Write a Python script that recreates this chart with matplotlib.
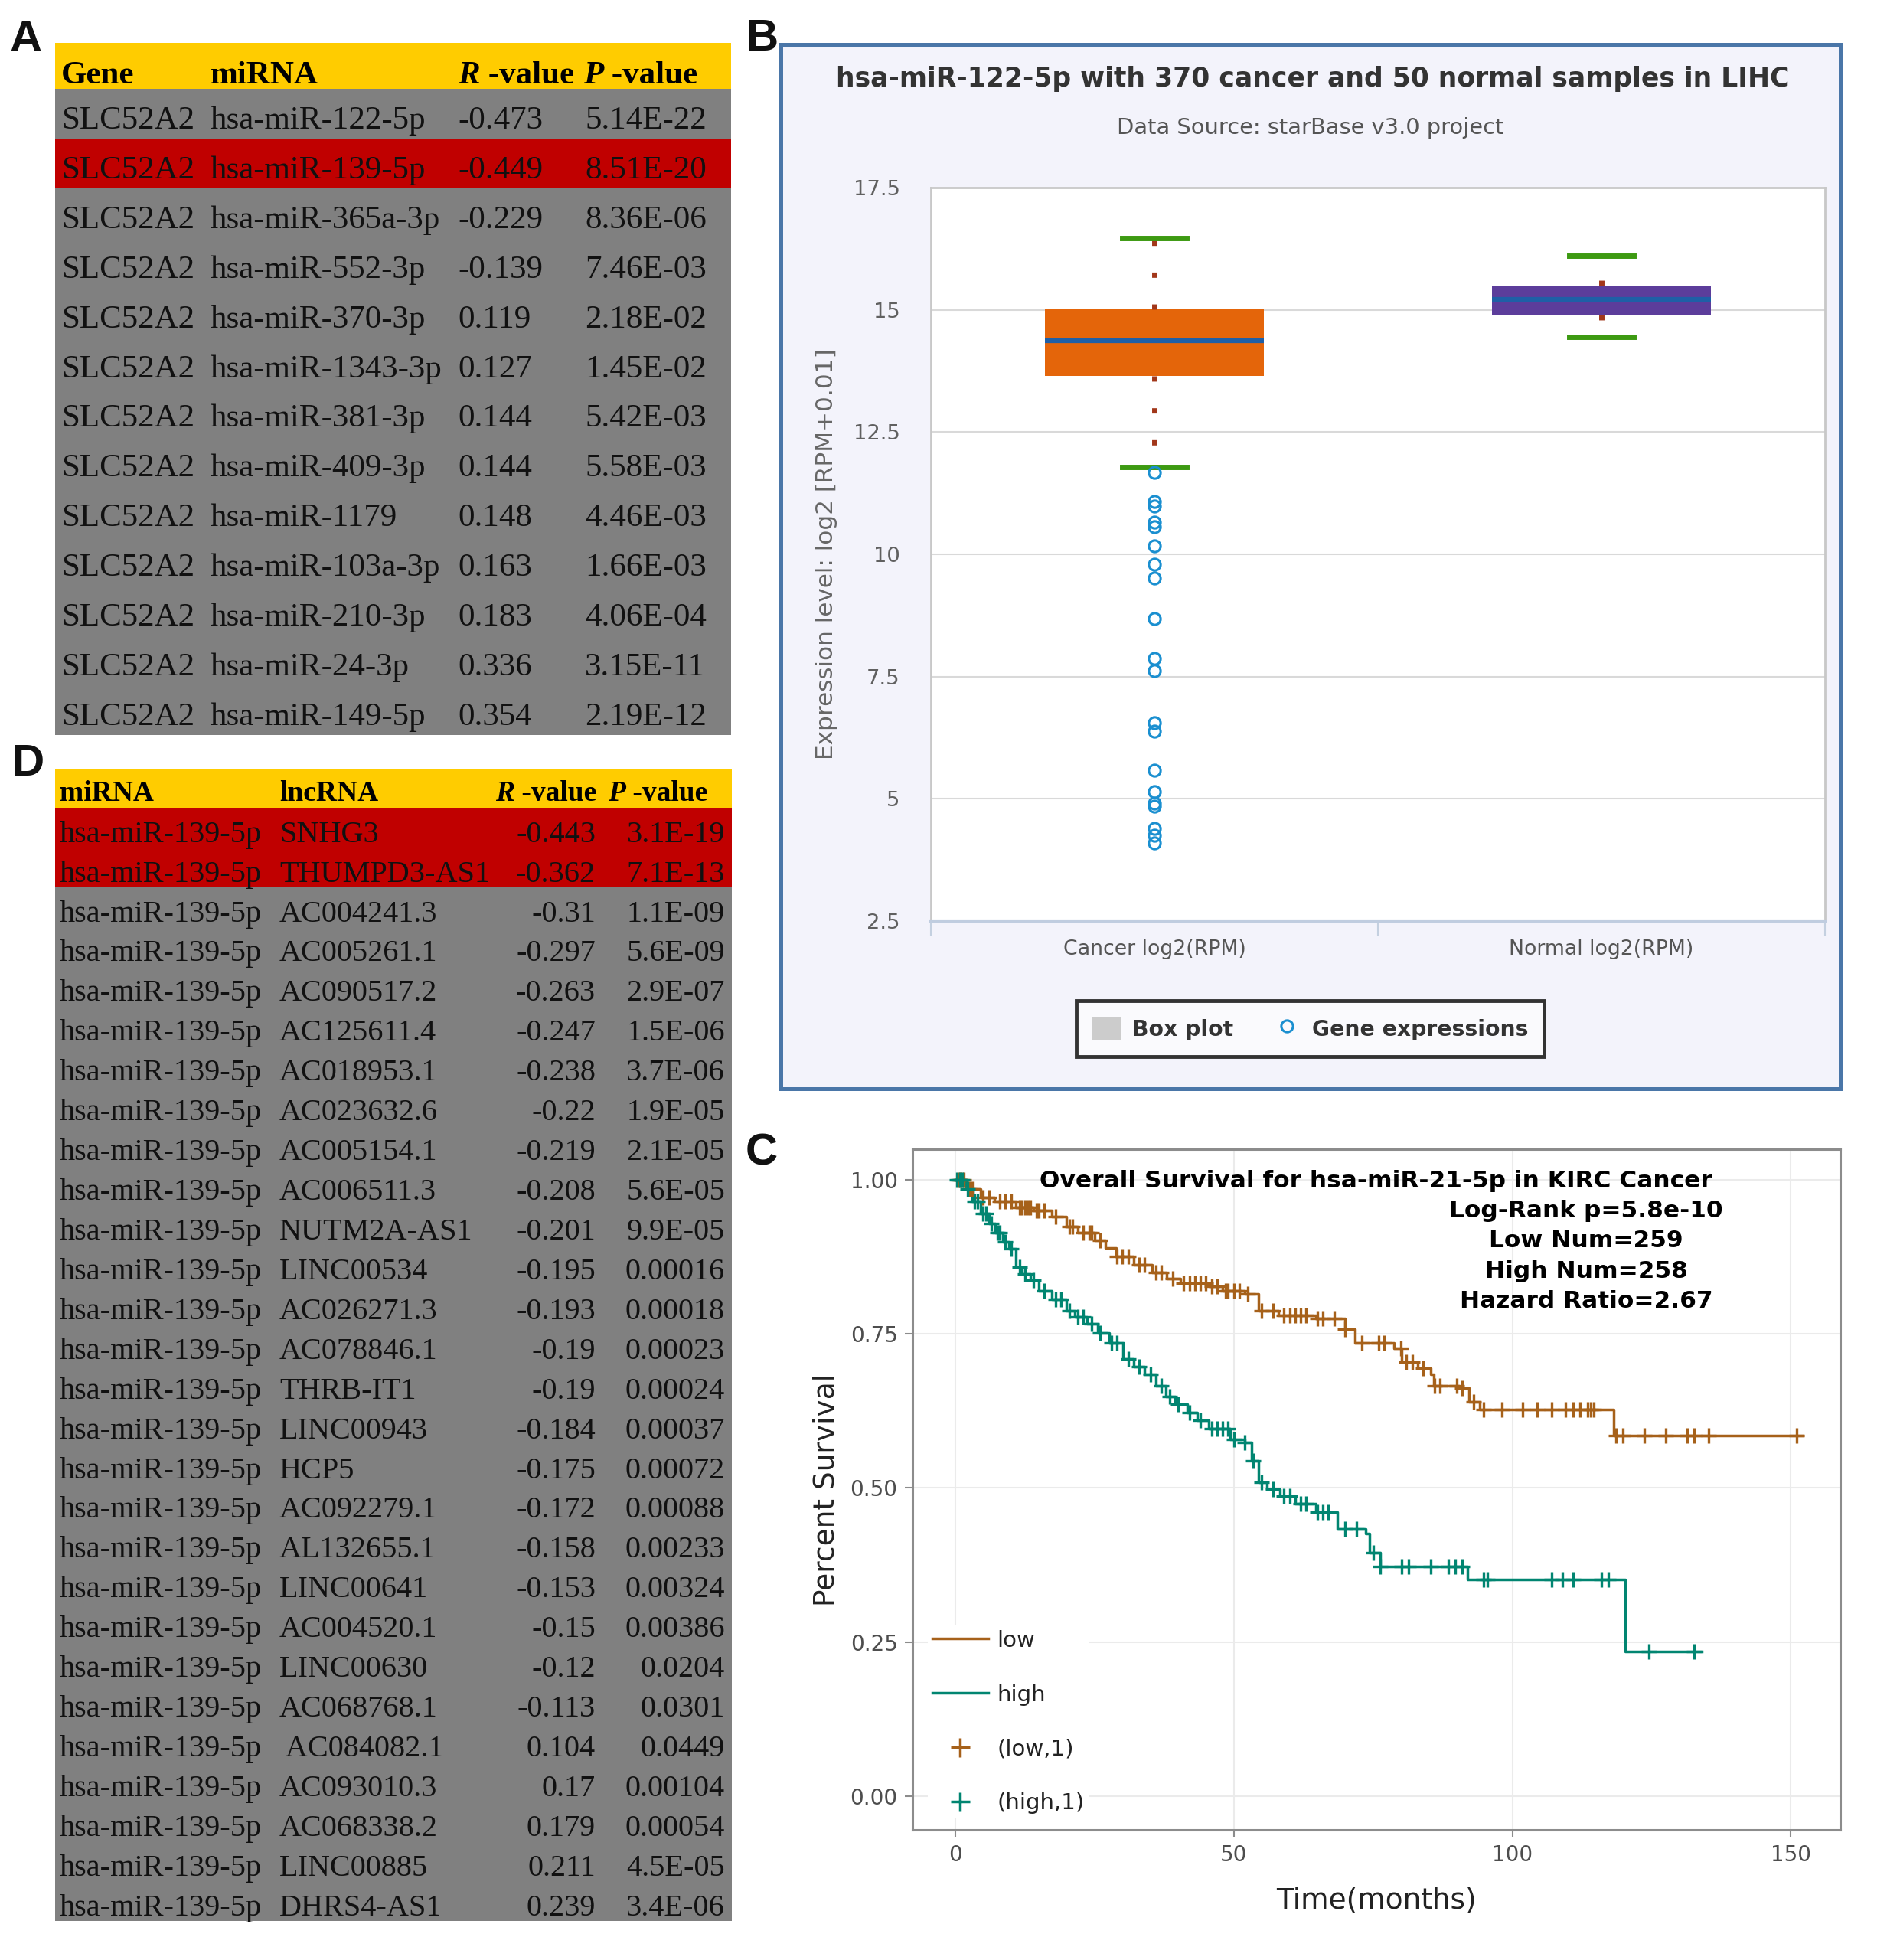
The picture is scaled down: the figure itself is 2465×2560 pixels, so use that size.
import numpy as np
import matplotlib
matplotlib.use('Agg')
import matplotlib.pyplot as plt
from matplotlib.patches import Rectangle, Patch
from matplotlib.lines import Line2D
from matplotlib.ticker import FixedLocator

# ---------------- data ----------------
# Table A
genes_A = ['SLC52A2'] * 13
mirna_A = ['hsa-miR-122-5p', 'hsa-miR-139-5p', 'hsa-miR-365a-3p', 'hsa-miR-552-3p',
           'hsa-miR-370-3p', 'hsa-miR-1343-3p', 'hsa-miR-381-3p', 'hsa-miR-409-3p',
           'hsa-miR-1179', 'hsa-miR-103a-3p', 'hsa-miR-210-3p', 'hsa-miR-24-3p',
           'hsa-miR-149-5p']
r_A = ['-0.473', '-0.449', '-0.229', '-0.139', '0.119', '0.127', '0.144', '0.144',
       '0.148', '0.163', '0.183', '0.336', '0.354']
p_A = ['5.14E-22', '8.51E-20', '8.36E-06', '7.46E-03', '2.18E-02', '1.45E-02',
       '5.42E-03', '5.58E-03', '4.46E-03', '1.66E-03', '4.06E-04', '3.15E-11', '2.19E-12']
highlight_A = [1]

# Table D
mirna_D = ['hsa-miR-139-5p'] * 28
lnc_D = ['SNHG3', 'THUMPD3-AS1', 'AC004241.3', 'AC005261.1', 'AC090517.2', 'AC125611.4',
         'AC018953.1', 'AC023632.6', 'AC005154.1', 'AC006511.3', 'NUTM2A-AS1', 'LINC00534',
         'AC026271.3', 'AC078846.1', 'THRB-IT1', 'LINC00943', 'HCP5', 'AC092279.1',
         'AL132655.1', 'LINC00641', 'AC004520.1', 'LINC00630', 'AC068768.1', ' AC084082.1',
         'AC093010.3', 'AC068338.2', 'LINC00885', 'DHRS4-AS1']
r_D = ['-0.443', '-0.362', '-0.31', '-0.297', '-0.263', '-0.247', '-0.238', '-0.22',
       '-0.219', '-0.208', '-0.201', '-0.195', '-0.193', '-0.19', '-0.19', '-0.184',
       '-0.175', '-0.172', '-0.158', '-0.153', '-0.15', '-0.12', '-0.113', '0.104',
       '0.17', '0.179', '0.211', '0.239']
p_D = ['3.1E-19', '7.1E-13', '1.1E-09', '5.6E-09', '2.9E-07', '1.5E-06', '3.7E-06',
       '1.9E-05', '2.1E-05', '5.6E-05', '9.9E-05', '0.00016', '0.00018', '0.00023',
       '0.00024', '0.00037', '0.00072', '0.00088', '0.00233', '0.00324', '0.00386',
       '0.0204', '0.0301', '0.0449', '0.00104', '0.00054', '4.5E-05', '3.4E-06']
highlight_D = [0, 1]

# Panel B (box plot)
b_categories = ['Cancer log2(RPM)', 'Normal log2(RPM)']
b_q1 = [13.65, 14.90]
b_med = [14.37, 15.22]
b_q3 = [15.01, 15.49]
b_whislo = [11.78, 14.45]
b_whishi = [16.46, 16.11]
b_fliers_cancer = [11.67, 11.08, 10.99, 10.66, 10.56, 10.17, 9.80, 9.52, 8.69, 7.87,
                   7.62, 6.56, 6.38, 5.58, 5.15, 4.91, 4.85, 4.39, 4.25, 4.10]
b_fliers_normal = []
b_yticks = [2.5, 5, 7.5, 10, 12.5, 15, 17.5]
b_box_colors = ['#e4650a', '#5c3d9b']

# Panel C (Kaplan-Meier)
low_t = [0, 2, 4.5, 7, 10.9, 14, 17.3, 19.9, 22, 25, 27, 28.8, 32, 35.3, 38, 40.4, 45.5,
         48, 51.9, 54.5, 58, 64.7, 69.9, 71.8, 78.8, 80.1, 83, 85.3, 85.9, 90.4, 92.3,
         94.2, 118.2, 152.2]
low_s = [1.0, 0.985, 0.972, 0.965, 0.955, 0.95, 0.94, 0.924, 0.915, 0.902, 0.89, 0.876,
         0.862, 0.85, 0.84, 0.832, 0.828, 0.82, 0.815, 0.788, 0.78, 0.775, 0.758, 0.736,
         0.727, 0.705, 0.695, 0.684, 0.666, 0.662, 0.64, 0.627, 0.585, 0.585]
low_cens = [0.5, 1, 1.5, 2.5, 3, 5, 6, 8, 9, 10, 11.5, 12, 12.5, 13, 13.5, 14.5, 15, 16,
            18, 20.5, 21, 23, 24, 24.5, 26, 29, 30, 31, 33, 34, 36, 37, 39, 41, 42, 43,
            44, 45, 46, 47, 48.5, 49, 50, 51, 52.5, 55, 57, 59, 60, 61, 62, 63, 65, 66,
            68, 70, 73, 76, 77, 80, 81, 82, 84, 86, 87, 90, 91, 93, 94.9, 98.1, 101.9,
            104.5, 107.1, 109.6, 110.9, 112.2, 113.5, 114.1, 114.7, 118.6, 119.9, 123.7,
            127.6, 131.4, 132.7, 135.3, 151.0]
high_t = [0, 1.9, 3, 4.5, 6, 7.1, 8.5, 9.6, 10.9, 12, 13.5, 15, 17.3, 19.9, 21.5, 23.7,
          25.5, 27.6, 30.1, 32, 34, 36, 37.8, 39.5, 41.7, 43.5, 45.5, 49.4, 51.9, 53.2,
          54.5, 56, 58.3, 61, 64.7, 68.6, 73.7, 74.4, 76.3, 92, 120.3, 134]
high_s = [1.0, 0.985, 0.965, 0.946, 0.93, 0.915, 0.9, 0.889, 0.858, 0.848, 0.837, 0.82,
          0.806, 0.788, 0.778, 0.767, 0.752, 0.736, 0.71, 0.697, 0.684, 0.666, 0.649,
          0.636, 0.622, 0.61, 0.596, 0.579, 0.574, 0.544, 0.509, 0.498, 0.487, 0.475,
          0.461, 0.434, 0.426, 0.395, 0.373, 0.351, 0.235, 0.235]
high_cens = [0.3, 0.8, 1.2, 2.2, 3.5, 4, 5, 5.5, 6.5, 7.5, 8, 9, 10, 11.5, 12.5, 14, 16,
             18, 19, 20.5, 22, 23, 24.5, 26, 28, 29, 31, 33, 35, 37, 38.5, 40, 42, 44, 46,
             47, 48, 49, 50, 52, 53.5, 55, 57, 59, 60, 62, 63, 65, 66, 67, 70, 72, 75,
             76.3, 80.1, 81.4, 85.3, 88.5, 89.7, 91.0, 94.9, 95.5, 107.1, 109.0, 110.9,
             116.0, 117.3, 124.6, 132.7]
c_xticks = [0, 50, 100, 150]
c_yticks = [0.0, 0.25, 0.5, 0.75, 1.0]
c_annot = ['Overall Survival for hsa-miR-21-5p in KIRC Cancer', 'Log-Rank p=5.8e-10',
           'Low Num=259', 'High Num=258', 'Hazard Ratio=2.67']
low_col, high_col = '#A6611A', '#018571'

# ---------------- figure ----------------
W, H, DPI = 2465, 2560, 100
fig = plt.figure(figsize=(W / DPI, H / DPI), dpi=DPI)
fig.patch.set_facecolor('white')

bg = fig.add_axes([0, 0, 1, 1])
bg.set_xlim(0, W)
bg.set_ylim(H, 0)
bg.axis('off')

SERIF = ['Liberation Serif', 'DejaVu Serif']
SANS = ['DejaVu Sans']
GOLD, GRAY, RED = '#ffcc00', '#808080', '#c00000'


def draw_table(x0, x1, head_top, head_h, body_top, row_h, nrows, hl):
    bg.add_patch(Rectangle((x0, head_top), x1 - x0, head_h + 1, fc=GOLD, ec='none'))
    bg.add_patch(Rectangle((x0, body_top), x1 - x0, nrows * row_h, fc=GRAY, ec='none'))
    for i in hl:
        bg.add_patch(Rectangle((x0, body_top + i * row_h), x1 - x0, row_h, fc=RED, ec='none'))


def header_rv(x, y, letter, size):
    t = bg.text(x, y, letter, fontsize=size, family=SERIF, weight='bold', style='italic',
                ha='left', va='baseline', color='black')
    bg.annotate(' -value', xy=(1, 0), xycoords=t, fontsize=size, family=SERIF,
                weight='bold', ha='left', va='bottom', color='black')


# ---- Table A ----
A_x0, A_x1 = 72, 955
A_head_top, A_head_h = 56, 60
A_body_top = 116
A_row_h = (960 - 116) / 13
draw_table(A_x0, A_x1, A_head_top, A_head_h, A_body_top, A_row_h, len(mirna_A), highlight_A)
fsA, fsAh = 31, 31
yb = A_head_top + 0.88 * A_head_h
bg.text(80, yb, 'Gene', fontsize=fsAh, family=SERIF, weight='bold', va='baseline')
bg.text(275, yb, 'miRNA', fontsize=fsAh, family=SERIF, weight='bold', va='baseline')
header_rv(598, yb, 'R', fsAh)
header_rv(762, yb, 'P', fsAh)
for i in range(len(mirna_A)):
    y = A_body_top + i * A_row_h + 0.8 * A_row_h
    for txt, x in ((genes_A[i], 80), (mirna_A[i], 275), (r_A[i], 598), (p_A[i], 764)):
        bg.text(x, y, txt, fontsize=fsA, family=SERIF, va='baseline', ha='left', color='#111111')

# ---- Table D ----
D_x0, D_x1 = 72, 956
D_head_top, D_head_h = 1005, 50
D_body_top = 1055
D_row_h = (2509 - 1055) / 28
draw_table(D_x0, D_x1, D_head_top, D_head_h, D_body_top, D_row_h, len(lnc_D), highlight_D)
fsD, fsDh = 29, 27
yb = D_head_top + 0.82 * D_head_h
bg.text(78, yb, 'miRNA', fontsize=fsDh, family=SERIF, weight='bold', va='baseline')
bg.text(365, yb, 'lncRNA', fontsize=fsDh, family=SERIF, weight='bold', va='baseline')
header_rv(647, yb, 'R', fsDh)
header_rv(794, yb, 'P', fsDh)
for i in range(len(lnc_D)):
    y = D_body_top + i * D_row_h + 0.86 * D_row_h
    bg.text(78, y, mirna_D[i], fontsize=fsD, family=SERIF, va='baseline', ha='left', color='#111111')
    bg.text(365, y, lnc_D[i], fontsize=fsD, family=SERIF, va='baseline', ha='left', color='#111111')
    bg.text(778, y, r_D[i], fontsize=fsD, family=SERIF, va='baseline', ha='right', color='#111111')
    bg.text(947, y, p_D[i], fontsize=fsD, family=SERIF, va='baseline', ha='right', color='#111111')

# ---- panel letters ----
for lab, x, y in (('A', 13, 67), ('B', 974, 66), ('C', 974, 1521), ('D', 15, 1013)):
    bg.text(x, y, lab, fontsize=42, family=['Liberation Sans', 'DejaVu Sans'],
            weight='bold', va='baseline', ha='left', color='#111111')

# ---- Panel B frame ----
bg.add_patch(Rectangle((1019.5, 57.5), 2404 - 1019.5, 1421.5 - 57.5, fc='#f3f3fb',
                       ec='#4a76a8', lw=3.6))
bg.text(1715, 113, 'hsa-miR-122-5p with 370 cancer and 50 normal samples in LIHC',
        fontsize=24.9, family=SANS, weight='bold', ha='center', va='baseline', color='#333333')
bg.text(1712, 175, 'Data Source: starBase v3.0 project', fontsize=20.8, family=SANS,
        ha='center', va='baseline', color='#555555')

axb = fig.add_axes([1216 / W, 1 - 1203 / H, 1168 / W, 958 / H])
axb.set_facecolor('white')
stats = []
fl = [b_fliers_cancer, b_fliers_normal]
for i in range(2):
    stats.append(dict(med=b_med[i], q1=b_q1[i], q3=b_q3[i], whislo=b_whislo[i],
                      whishi=b_whishi[i], fliers=fl[i], label=b_categories[i]))
bp = axb.bxp(stats, positions=[0, 1], widths=0.49, capwidths=0.144, patch_artist=True,
             showfliers=True,
             boxprops=dict(linewidth=0),
             whiskerprops=dict(color='#a2371a', linewidth=5, linestyle=(0, (1, 5))),
             capprops=dict(color='#3d9a12', linewidth=5),
             medianprops=dict(color='#1f5fa6', linewidth=4.5),
             flierprops=dict(marker='o', mfc='none', mec='#1a8fd0', ms=11, mew=2.2, ls='none'))
for patch, col in zip(bp['boxes'], b_box_colors):
    patch.set_facecolor(col)
    patch.set_edgecolor(col)
for art in bp['boxes']:
    art.set_zorder(3)
for art in bp['medians']:
    art.set_zorder(4)
for art in bp['whiskers'] + bp['caps']:
    art.set_zorder(3)
for art in bp['fliers']:
    art.set_zorder(5)
axb.set_xlim(-0.5, 1.5)
axb.set_ylim(2.5, 17.5)
axb.set_yticks(b_yticks)
axb.set_yticklabels(['{:g}'.format(v) for v in b_yticks])
axb.yaxis.grid(True, color='#d9d9d9', lw=1.5)
axb.set_axisbelow(True)
axb.tick_params(axis='y', length=0, pad=29, labelsize=19.7, labelcolor='#606060')
axb.xaxis.set_major_locator(FixedLocator([-0.5, 0.5, 1.5]))
axb.xaxis.set_minor_locator(FixedLocator([0, 1]))
axb.set_xticklabels([], minor=False)
axb.set_xticklabels(b_categories, minor=True)
axb.tick_params(axis='x', which='major', length=14, width=1.5, color='#c4d0e0', direction='out')
axb.tick_params(axis='x', which='minor', length=0, pad=17, labelsize=19.3, labelcolor='#555555')
for s in ('top', 'left', 'right'):
    axb.spines[s].set_color('#c8c8c8')
    axb.spines[s].set_linewidth(2)
axb.spines['bottom'].set_color('#c0cde0')
axb.spines['bottom'].set_linewidth(3)
axb.set_ylabel('Expression level: log2 [RPM+0.01]', fontsize=22.4, color='#666666')
axb.yaxis.set_label_coords((1080 - 1216) / 1168, 0.5)
axb.yaxis.label.set_va('center')

hb = [Patch(facecolor='#cccccc', edgecolor='none'),
      Line2D([], [], ls='none', marker='o', mfc='none', mec='#1a8fd0', ms=11, mew=2.2)]
legb = axb.legend(hb, ['Box plot', 'Gene expressions'], loc='center',
                  bbox_to_anchor=(1711.5 / W, 1 - 1343.5 / H), bbox_transform=fig.transFigure,
                  ncol=2, frameon=True, fancybox=False, edgecolor='#333333',
                  facecolor='#fafafd', framealpha=1, prop=dict(weight='bold', size=20.3),
                  labelcolor='#333333', handlelength=1.35, handleheight=1.35,
                  handletextpad=0.5, columnspacing=1.8, borderpad=0.75)
legb.get_frame().set_linewidth(3.5)

# ---- Panel C ----
axc = fig.add_axes([1192 / W, 1 - 2390 / H, 1212 / W, 889 / H])
axc.set_xlim(-7.7, 158.9)
axc.set_ylim(-0.055, 1.05)


def surv_at(times, surv, pts):
    idx = np.searchsorted(np.asarray(times), np.asarray(pts), side='right') - 1
    return np.asarray(surv)[idx]


axc.step(low_t, low_s, where='post', color=low_col, lw=2.5, zorder=3)
axc.step(high_t, high_s, where='post', color=high_col, lw=2.5, zorder=3)
axc.plot(low_cens, surv_at(low_t, low_s, low_cens), ls='none', marker='+', ms=15,
         mew=2.4, color=low_col, zorder=4)
axc.plot(high_cens, surv_at(high_t, high_s, high_cens), ls='none', marker='+', ms=15,
         mew=2.4, color=high_col, zorder=4)
axc.set_xticks(c_xticks)
axc.set_yticks(c_yticks)
axc.set_yticklabels(['{:.2f}'.format(v) for v in c_yticks])
axc.grid(True, color='#ebebeb', lw=1.5)
axc.set_axisbelow(True)
for s in axc.spines.values():
    s.set_color('#8c8c8c')
    s.set_linewidth(2.2)
axc.tick_params(length=7, width=1.5, color='#8c8c8c', labelsize=20, labelcolor='#4d4d4d', pad=7)
axc.set_xlabel('Time(months)', fontsize=27, color='#222222')
axc.xaxis.set_label_coords(0.5, (2390 - 2483) / 889)
axc.xaxis.label.set_va('center')
axc.set_ylabel('Percent Survival', fontsize=27, color='#222222')
axc.yaxis.set_label_coords((1079 - 1192) / 1212, 0.5)
axc.yaxis.label.set_va('center')

hc = [Line2D([], [], color=low_col, lw=2.5), Line2D([], [], color=high_col, lw=2.5),
      Line2D([], [], ls='none', marker='+', ms=18, mew=2.5, color=low_col),
      Line2D([], [], ls='none', marker='+', ms=18, mew=2.5, color=high_col)]
legc = axc.legend(hc, ['low', 'high', '(low,1)', '(high,1)'], loc='center left',
                  bbox_to_anchor=(1212 / W, 1 - 2249 / H), bbox_transform=fig.transFigure,
                  frameon=True, facecolor='white', edgecolor='none', framealpha=1,
                  fontsize=21, labelcolor='#222222', handlelength=2.5, handletextpad=0.4,
                  labelspacing=1.47, borderpad=0.2, borderaxespad=0)

# ---- overlay for annotations drawn above panel C ----
ov = fig.add_axes([0, 0, 1, 1])
ov.set_xlim(0, W)
ov.set_ylim(H, 0)
ov.axis('off')
ov.patch.set_alpha(0)
cx = [1797, 2072, 2072, 2072, 2072]
cy = [1551, 1590, 1629, 1669, 1708]
for t, x, y in zip(c_annot, cx, cy):
    ov.text(x, y, t, fontsize=22.5, family=SANS, weight='bold', ha='center',
            va='baseline', color='black')

fig.savefig('out.png', dpi=DPI, facecolor='white')
